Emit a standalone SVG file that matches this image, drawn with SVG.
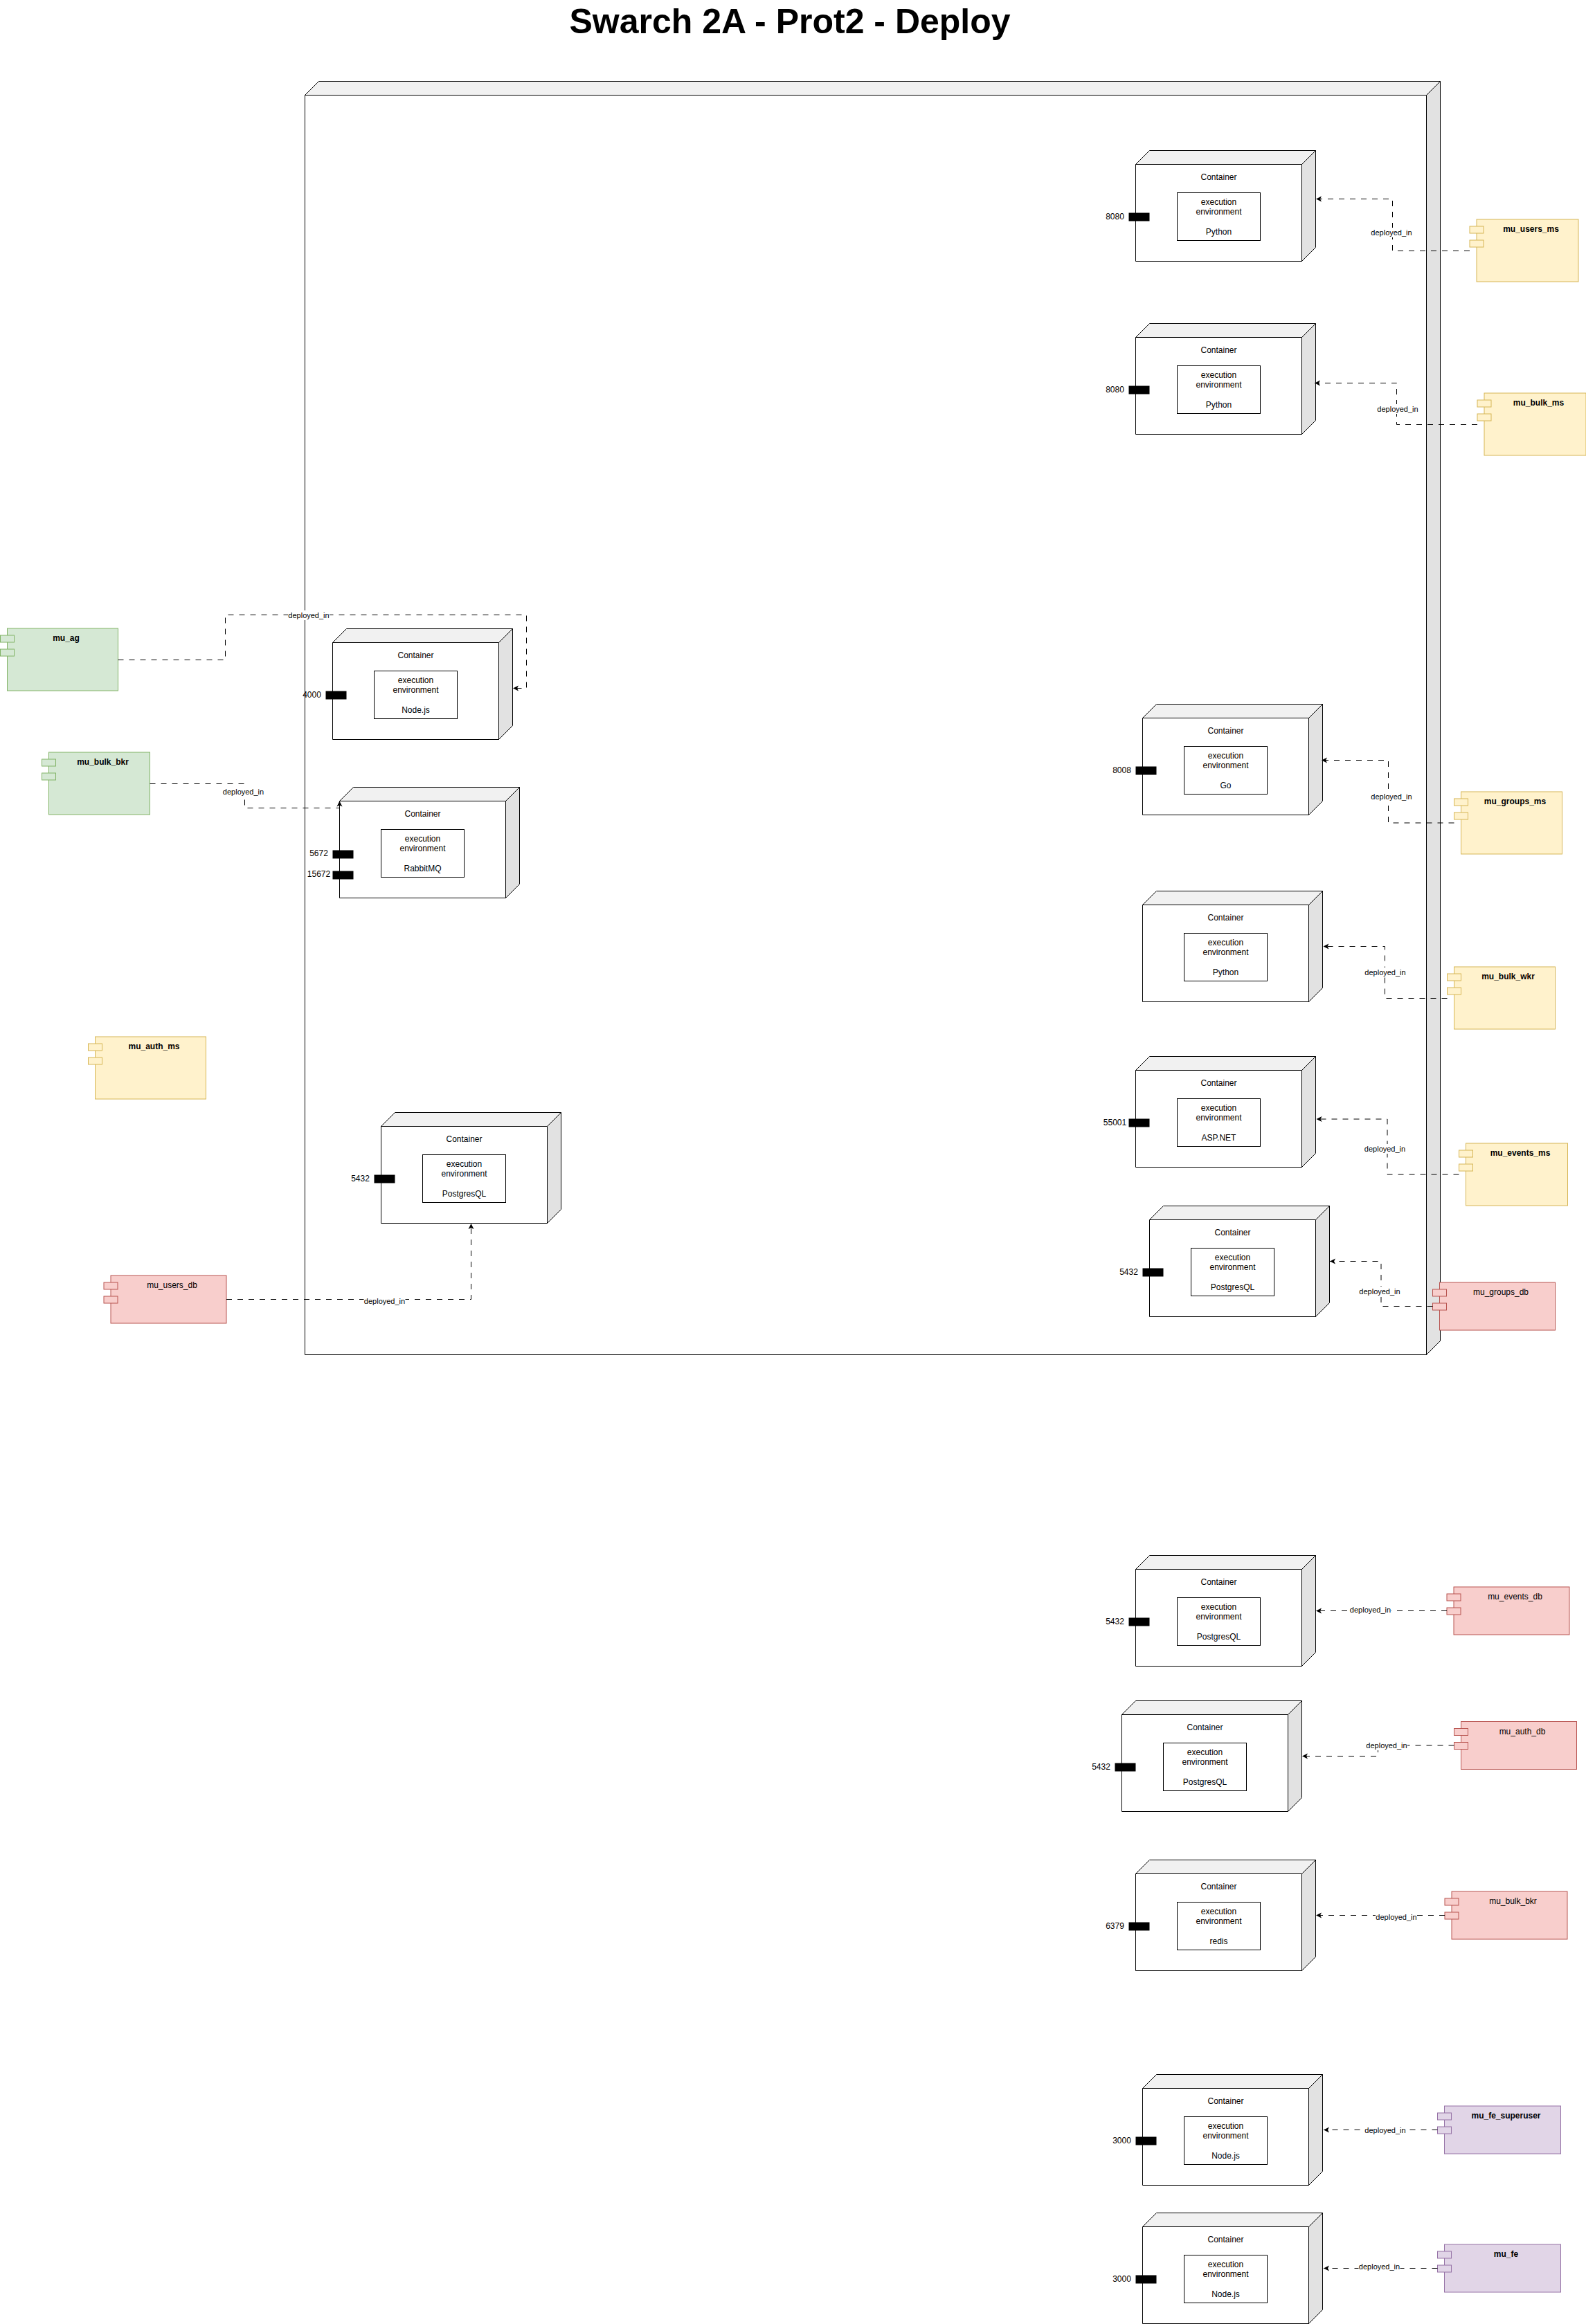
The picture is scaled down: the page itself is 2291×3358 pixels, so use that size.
<svg xmlns="http://www.w3.org/2000/svg" width="2291" height="3358" viewBox="0 0 2291 3358">
<style>
text{font-family:"Liberation Sans",Arial,Helvetica,sans-serif;font-size:12px;fill:#000;text-anchor:middle}
.title{font-size:50px;font-weight:bold}
.b{font-weight:bold}
.lab{font-size:11px}
.f{fill:#fff;stroke:#000;stroke-width:1}
.top{fill:#f1f1f1;stroke:#000;stroke-width:1}
.side{fill:#e2e2e2;stroke:#000;stroke-width:1}
.port{fill:#000;stroke:none}
.y rect{fill:#fff2cc;stroke:#d6b656}
.g rect{fill:#d5e8d4;stroke:#82b366}
.r rect{fill:#f8cecc;stroke:#b85450}
.p rect{fill:#e1d5e7;stroke:#9673a6}
.c{fill:none;stroke:#000;stroke-width:1;stroke-dasharray:8 8;marker-end:url(#arr)}
.lb{fill:#fff;stroke:none}
</style>
<defs>
<marker id="arr" markerUnits="userSpaceOnUse" markerWidth="9" markerHeight="9" viewBox="0 0 9 9" refX="8" refY="4.5" orient="auto">
<path d="M0 0.5L8 4.5L0 8.5L2 4.5Z" fill="#000"/>
</marker>
</defs>
<text id="title" class="title" x="1141" y="48">Swarch 2A - Prot2 - Deploy</text>

<g id="outer-node" transform="translate(440.5 117.5)">
<path class="f" d="M0 20H1620V1840H0Z"/>
<path class="top" d="M0 20L20 0H1640L1620 20Z"/>
<path class="side" d="M1620 20L1640 0V1820L1620 1840Z"/>
</g>

<g id="container-users" transform="translate(1640.5 217.5)">
<path class="f" d="M0 20H240V160H0Z"/><path class="top" d="M0 20L20 0H260L240 20Z"/><path class="side" d="M240 20L260 0V140L240 160Z"/>
<rect class="f" x="60" y="61" width="120" height="69"/>
<text x="120" y="42">Container</text><text x="120" y="78">execution</text><text x="120" y="92">environment</text><text x="120" y="121">Python</text>
<rect class="port" x="-10" y="90" width="30" height="12"/><text x="-30" y="99">8080</text>
</g>
<g id="container-bulk" transform="translate(1640.5 467.5)">
<path class="f" d="M0 20H240V160H0Z"/><path class="top" d="M0 20L20 0H260L240 20Z"/><path class="side" d="M240 20L260 0V140L240 160Z"/>
<rect class="f" x="60" y="61" width="120" height="69"/>
<text x="120" y="42">Container</text><text x="120" y="78">execution</text><text x="120" y="92">environment</text><text x="120" y="121">Python</text>
<rect class="port" x="-10" y="90" width="30" height="12"/><text x="-30" y="99">8080</text>
</g>
<g id="container-ag" transform="translate(480.5 908.5)">
<path class="f" d="M0 20H240V160H0Z"/><path class="top" d="M0 20L20 0H260L240 20Z"/><path class="side" d="M240 20L260 0V140L240 160Z"/>
<rect class="f" x="60" y="61" width="120" height="69"/>
<text x="120" y="42">Container</text><text x="120" y="78">execution</text><text x="120" y="92">environment</text><text x="120" y="121">Node.js</text>
<rect class="port" x="-10" y="90" width="30" height="12"/><text x="-30" y="99">4000</text>
</g>
<g id="container-rabbit" transform="translate(490.5 1137.5)">
<path class="f" d="M0 20H240V160H0Z"/><path class="top" d="M0 20L20 0H260L240 20Z"/><path class="side" d="M240 20L260 0V140L240 160Z"/>
<rect class="f" x="60" y="61" width="120" height="69"/>
<text x="120" y="42">Container</text><text x="120" y="78">execution</text><text x="120" y="92">environment</text><text x="120" y="121">RabbitMQ</text>
<rect class="port" x="-10" y="91" width="30" height="12"/><text x="-30" y="99">5672</text>
<rect class="port" x="-10" y="121" width="30" height="12"/><text x="-30" y="129">15672</text>
</g>
<g id="container-pg-users" transform="translate(550.5 1607.5)">
<path class="f" d="M0 20H240V160H0Z"/><path class="top" d="M0 20L20 0H260L240 20Z"/><path class="side" d="M240 20L260 0V140L240 160Z"/>
<rect class="f" x="60" y="61" width="120" height="69"/>
<text x="120" y="42">Container</text><text x="120" y="78">execution</text><text x="120" y="92">environment</text><text x="120" y="121">PostgresQL</text>
<rect class="port" x="-10" y="90" width="30" height="12"/><text x="-30" y="99">5432</text>
</g>
<g id="container-groups" transform="translate(1650.5 1017.5)">
<path class="f" d="M0 20H240V160H0Z"/><path class="top" d="M0 20L20 0H260L240 20Z"/><path class="side" d="M240 20L260 0V140L240 160Z"/>
<rect class="f" x="60" y="61" width="120" height="69"/>
<text x="120" y="42">Container</text><text x="120" y="78">execution</text><text x="120" y="92">environment</text><text x="120" y="121">Go</text>
<rect class="port" x="-10" y="90" width="30" height="12"/><text x="-30" y="99">8008</text>
</g>
<g id="container-wkr" transform="translate(1650.5 1287.5)">
<path class="f" d="M0 20H240V160H0Z"/><path class="top" d="M0 20L20 0H260L240 20Z"/><path class="side" d="M240 20L260 0V140L240 160Z"/>
<rect class="f" x="60" y="61" width="120" height="69"/>
<text x="120" y="42">Container</text><text x="120" y="78">execution</text><text x="120" y="92">environment</text><text x="120" y="121">Python</text>
</g>
<g id="container-events" transform="translate(1640.5 1526.5)">
<path class="f" d="M0 20H240V160H0Z"/><path class="top" d="M0 20L20 0H260L240 20Z"/><path class="side" d="M240 20L260 0V140L240 160Z"/>
<rect class="f" x="60" y="61" width="120" height="69"/>
<text x="120" y="42">Container</text><text x="120" y="78">execution</text><text x="120" y="92">environment</text><text x="120" y="121">ASP.NET</text>
<rect class="port" x="-10" y="90" width="30" height="12"/><text x="-30" y="99">55001</text>
</g>
<g id="container-pg-groups" transform="translate(1660.5 1742.5)">
<path class="f" d="M0 20H240V160H0Z"/><path class="top" d="M0 20L20 0H260L240 20Z"/><path class="side" d="M240 20L260 0V140L240 160Z"/>
<rect class="f" x="60" y="61" width="120" height="69"/>
<text x="120" y="42">Container</text><text x="120" y="78">execution</text><text x="120" y="92">environment</text><text x="120" y="121">PostgresQL</text>
<rect class="port" x="-10" y="90" width="30" height="12"/><text x="-30" y="99">5432</text>
</g>
<g id="container-pg-events" transform="translate(1640.5 2247.5)">
<path class="f" d="M0 20H240V160H0Z"/><path class="top" d="M0 20L20 0H260L240 20Z"/><path class="side" d="M240 20L260 0V140L240 160Z"/>
<rect class="f" x="60" y="61" width="120" height="69"/>
<text x="120" y="42">Container</text><text x="120" y="78">execution</text><text x="120" y="92">environment</text><text x="120" y="121">PostgresQL</text>
<rect class="port" x="-10" y="90" width="30" height="12"/><text x="-30" y="99">5432</text>
</g>
<g id="container-pg-auth" transform="translate(1620.5 2457.5)">
<path class="f" d="M0 20H240V160H0Z"/><path class="top" d="M0 20L20 0H260L240 20Z"/><path class="side" d="M240 20L260 0V140L240 160Z"/>
<rect class="f" x="60" y="61" width="120" height="69"/>
<text x="120" y="42">Container</text><text x="120" y="78">execution</text><text x="120" y="92">environment</text><text x="120" y="121">PostgresQL</text>
<rect class="port" x="-10" y="90" width="30" height="12"/><text x="-30" y="99">5432</text>
</g>
<g id="container-redis" transform="translate(1640.5 2687.5)">
<path class="f" d="M0 20H240V160H0Z"/><path class="top" d="M0 20L20 0H260L240 20Z"/><path class="side" d="M240 20L260 0V140L240 160Z"/>
<rect class="f" x="60" y="61" width="120" height="69"/>
<text x="120" y="42">Container</text><text x="120" y="78">execution</text><text x="120" y="92">environment</text><text x="120" y="121">redis</text>
<rect class="port" x="-10" y="90" width="30" height="12"/><text x="-30" y="99">6379</text>
</g>
<g id="container-fe-super" transform="translate(1650.5 2997.5)">
<path class="f" d="M0 20H240V160H0Z"/><path class="top" d="M0 20L20 0H260L240 20Z"/><path class="side" d="M240 20L260 0V140L240 160Z"/>
<rect class="f" x="60" y="61" width="120" height="69"/>
<text x="120" y="42">Container</text><text x="120" y="78">execution</text><text x="120" y="92">environment</text><text x="120" y="121">Node.js</text>
<rect class="port" x="-10" y="90" width="30" height="12"/><text x="-30" y="99">3000</text>
</g>
<g id="container-fe" transform="translate(1650.5 3197.5)">
<path class="f" d="M0 20H240V160H0Z"/><path class="top" d="M0 20L20 0H260L240 20Z"/><path class="side" d="M240 20L260 0V140L240 160Z"/>
<rect class="f" x="60" y="61" width="120" height="69"/>
<text x="120" y="42">Container</text><text x="120" y="78">execution</text><text x="120" y="92">environment</text><text x="120" y="121">Node.js</text>
<rect class="port" x="-10" y="90" width="30" height="12"/><text x="-30" y="99">3000</text>
</g>

<g id="mu_users_ms" class="y" transform="translate(2133 317)"><rect width="147" height="90"/><rect x="-10" y="10" width="20" height="10"/><rect x="-10" y="30" width="20" height="10"/><text class="b" x="78.5" y="18">mu_users_ms</text></g>
<g id="mu_bulk_ms" class="y" transform="translate(2144 568)"><rect width="147" height="90"/><rect x="-10" y="10" width="20" height="10"/><rect x="-10" y="30" width="20" height="10"/><text class="b" x="78.5" y="18">mu_bulk_ms</text></g>
<g id="mu_ag" class="g" transform="translate(10.5 908)"><rect width="160" height="90"/><rect x="-10" y="10" width="20" height="10"/><rect x="-10" y="30" width="20" height="10"/><text class="b" x="85" y="18">mu_ag</text></g>
<g id="mu_bulk_bkr_green" class="g" transform="translate(70.5 1087)"><rect width="146" height="90"/><rect x="-10" y="10" width="20" height="10"/><rect x="-10" y="30" width="20" height="10"/><text class="b" x="78" y="18">mu_bulk_bkr</text></g>
<g id="mu_auth_ms" class="y" transform="translate(137.5 1498)"><rect width="160" height="90"/><rect x="-10" y="10" width="20" height="10"/><rect x="-10" y="30" width="20" height="10"/><text class="b" x="85" y="18">mu_auth_ms</text></g>
<g id="mu_users_db" class="r" transform="translate(160 1843)"><rect width="167" height="69"/><rect x="-10" y="10" width="20" height="10"/><rect x="-10" y="30" width="20" height="10"/><text x="88.5" y="18">mu_users_db</text></g>
<g id="mu_groups_ms" class="y" transform="translate(2110.5 1144)"><rect width="146" height="90"/><rect x="-10" y="10" width="20" height="10"/><rect x="-10" y="30" width="20" height="10"/><text class="b" x="78" y="18">mu_groups_ms</text></g>
<g id="mu_bulk_wkr" class="y" transform="translate(2100.5 1397)"><rect width="146" height="90"/><rect x="-10" y="10" width="20" height="10"/><rect x="-10" y="30" width="20" height="10"/><text class="b" x="78" y="18">mu_bulk_wkr</text></g>
<g id="mu_events_ms" class="y" transform="translate(2117.5 1652)"><rect width="147" height="90"/><rect x="-10" y="10" width="20" height="10"/><rect x="-10" y="30" width="20" height="10"/><text class="b" x="78.5" y="18">mu_events_ms</text></g>
<g id="mu_groups_db" class="r" transform="translate(2079.5 1853)"><rect width="167" height="69"/><rect x="-10" y="10" width="20" height="10"/><rect x="-10" y="30" width="20" height="10"/><text x="88.5" y="18">mu_groups_db</text></g>
<g id="mu_events_db" class="r" transform="translate(2100 2293)"><rect width="167" height="69"/><rect x="-10" y="10" width="20" height="10"/><rect x="-10" y="30" width="20" height="10"/><text x="88.5" y="18">mu_events_db</text></g>
<g id="mu_auth_db" class="r" transform="translate(2110.5 2487.5)"><rect width="167" height="69"/><rect x="-10" y="10" width="20" height="10"/><rect x="-10" y="30" width="20" height="10"/><text x="88.5" y="18">mu_auth_db</text></g>
<g id="mu_bulk_bkr_red" class="r" transform="translate(2097 2733)"><rect width="167" height="69"/><rect x="-10" y="10" width="20" height="10"/><rect x="-10" y="30" width="20" height="10"/><text x="88.5" y="18">mu_bulk_bkr</text></g>
<g id="mu_fe_superuser" class="p" transform="translate(2086.5 3043)"><rect width="168" height="69"/><rect x="-10" y="10" width="20" height="10"/><rect x="-10" y="30" width="20" height="10"/><text class="b" x="89" y="18">mu_fe_superuser</text></g>
<g id="mu_fe" class="p" transform="translate(2086.5 3243)"><rect width="168" height="69"/><rect x="-10" y="10" width="20" height="10"/><rect x="-10" y="30" width="20" height="10"/><text class="b" x="89" y="18">mu_fe</text></g>

<g id="connectors">
<path class="c" d="M2123 362.5H2011.5V287.5H1901"/>
<rect class="lb" x="1980" y="329" width="60" height="14"/><text class="lab" x="2010" y="340">deployed_in</text>
<path class="c" d="M2134 613.5H2017.5V553.5H1899"/>
<rect class="lb" x="1989" y="584" width="60" height="14"/><text class="lab" x="2019" y="595">deployed_in</text>
<path class="c" d="M170.5 953.5H325.5V888.5H760.5V994.5H741"/>
<rect class="lb" x="416" y="882" width="60" height="14"/><text class="lab" x="446" y="893">deployed_in</text>
<path class="c" d="M216.5 1132.5H353.5V1167.5H490.5V1157.5"/>
<rect class="lb" x="321.500" y="1137" width="60" height="14"/><text class="lab" x="351.500" y="1148">deployed_in</text>
<path class="c" d="M327 1877.5H680.500V1768"/>
<rect class="lb" x="525.500" y="1873" width="60" height="14"/><text class="lab" x="555.500" y="1884">deployed_in</text>
<path class="c" d="M2100.500 1189H2005.500V1098.500H1909"/>
<rect class="lb" x="1980" y="1144" width="60" height="14"/><text class="lab" x="2010" y="1155">deployed_in</text>
<path class="c" d="M2090.500 1442.500H2000.500V1367.500H1911.500"/>
<rect class="lb" x="1971" y="1398" width="60" height="14"/><text class="lab" x="2001" y="1409">deployed_in</text>
<path class="c" d="M2107.500 1697H2004V1617H1901.500"/>
<rect class="lb" x="1970.500" y="1653" width="60" height="14"/><text class="lab" x="2000.500" y="1664">deployed_in</text>
<path class="c" d="M2069.500 1887.500H1995V1822.500H1921"/>
<rect class="lb" x="1963" y="1859" width="60" height="14"/><text class="lab" x="1993" y="1870">deployed_in</text>
<path class="c" d="M2090 2327.500H1901"/>
<rect class="lb" x="1949.500" y="2319" width="60" height="14"/><text class="lab" x="1979.500" y="2330">deployed_in</text>
<path class="c" d="M2100.500 2522H1990.500V2537.500H1881"/>
<rect class="lb" x="1973" y="2515" width="60" height="14"/><text class="lab" x="2003" y="2526">deployed_in</text>
<path class="c" d="M2087 2767.500H1901"/>
<rect class="lb" x="1987" y="2763" width="60" height="14"/><text class="lab" x="2017" y="2774">deployed_in</text>
<path class="c" d="M2076.500 3077.500H1912"/>
<rect class="lb" x="1971" y="3071" width="60" height="14"/><text class="lab" x="2001" y="3082">deployed_in</text>
<path class="c" d="M2076.500 3277.500H1912"/>
<rect class="lb" x="1962.500" y="3268" width="60" height="14"/><text class="lab" x="1992.500" y="3279">deployed_in</text>
</g>
</svg>
